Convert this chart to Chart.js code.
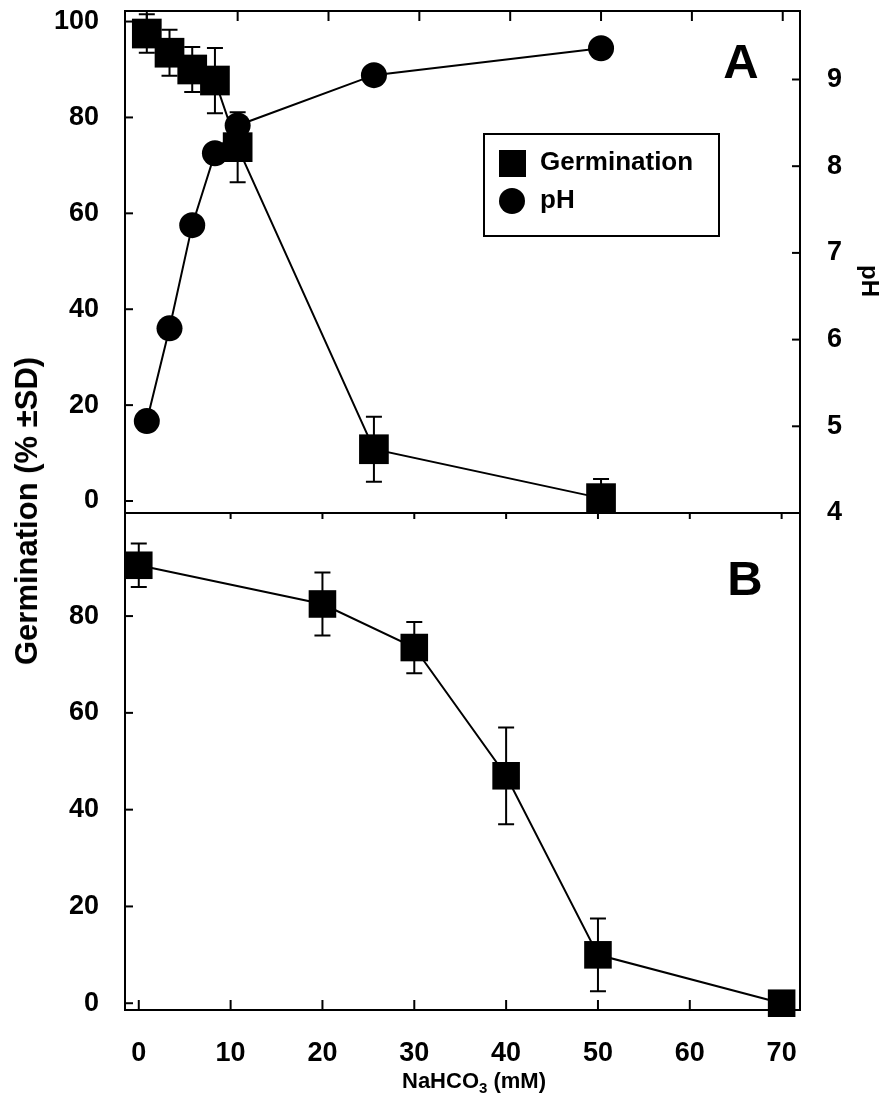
<!DOCTYPE html>
<html>
<head>
<meta charset="utf-8">
<script src="https://cdn.jsdelivr.net/npm/chart.js@4.4.1/dist/chart.umd.min.js"></script>
<style>
  html, body { margin: 0; padding: 0; background: #fff; }
  #wrap { position: relative; width: 891px; height: 1095px; overflow: hidden;
          font-family: 'Liberation Sans', Arial, sans-serif; font-weight: bold; color: #000; }
  canvas { position: absolute; left: 0; }
  #cA { top: 0; }
  #cB { top: 513px; }
  .lbl { position: absolute; white-space: nowrap; }
  #ytitle { left: 27px; top: 511px; font-size: 31px; transform: translate(-50%, -50%) rotate(-90deg); }
  #phtitle { left: 870px; top: 281px; font-size: 24px; transform: translate(-50%, -50%) rotate(90deg); }
  #xtitle { left: 474px; top: 1082px; font-size: 22px; transform: translate(-50%, -50%); }
  #xtitle sub { font-size: 15px; vertical-align: -5px; }
  .panel { font-size: 49px; transform: translate(-50%, -50%); }
  #legend { position: absolute; left: 483px; top: 133px; width: 233px; height: 100px;
            border: 2px solid #000; font-size: 26px; }
  #legend .row { position: absolute; left: 14px; height: 28px; line-height: 28px; }
  #legend .sq { display: inline-block; width: 27px; height: 27px; background: #000; vertical-align: middle; margin-right: 14px; }
  #legend .ci { display: inline-block; width: 26px; height: 26px; border-radius: 50%; background: #000; vertical-align: middle; margin-right: 15px; }
</style>
</head>
<body>
<div id="wrap">
  <canvas id="cA" width="891" height="540"></canvas>
  <canvas id="cB" width="891" height="582"></canvas>
  <div class="lbl" id="ytitle">Germination (% ±SD)</div>
  <div class="lbl" id="phtitle">pH</div>
  <div class="lbl" id="xtitle">NaHCO<sub>3</sub> (mM)</div>
  <div class="lbl panel" style="left:741px; top:61px;">A</div>
  <div class="lbl panel" style="left:745px; top:578px;">B</div>
  <div id="legend">
    <div class="row" style="top:12px;"><span class="sq"></span>Germination</div>
    <div class="row" style="top:50px;"><span class="ci"></span>pH</div>
  </div>
</div>
<script>
// ---- data ----
// panel A
var concA = [0, 2.5, 5, 7.5, 10, 25, 50];
var germA = [97.5, 93.5, 90, 87.7, 73.8, 10.8, 0.6];
var germSdA = [4, 4.8, 4.7, 6.8, 7.3, 6.8, 4];
var phA = [5.06, 6.13, 7.32, 8.15, 8.47, 9.05, 9.36];
// panel B
var concB = [0, 20, 30, 40, 50, 70];
var germB = [90.5, 82.5, 73.5, 47, 10, 0];
var germSdB = [4.5, 6.5, 5.3, 10, 7.5, 0];
// ticks
var concTicks = [0, 10, 20, 30, 40, 50, 60, 70];
var germTicksA = [0, 20, 40, 60, 80, 100];
var germTicksB = [0, 20, 40, 60, 80];
var phTicks = [4, 5, 6, 7, 8, 9];

var tickFont = { family: "'Liberation Sans', Arial, sans-serif", size: 27, weight: 'bold' };
Chart.defaults.color = '#000';

function fixTicks(list) {
  return function (scale) { scale.ticks = list.map(function (v) { return { value: v }; }); };
}
// fixed axis size, no extra room for overhanging labels
function fixSize(w, h) {
  return function (s) {
    if (w != null) s.width = w;
    if (h != null) s.height = h;
    s.paddingTop = 0; s.paddingBottom = 0; s.paddingLeft = 0; s.paddingRight = 0;
  };
}

// error bars, drawn under the markers
var errorBars = {
  id: 'errorBars',
  beforeDatasetsDraw: function (chart, args, opts) {
    var ctx = chart.ctx, a = chart.chartArea;
    var xs = chart.scales.x, ys = chart.scales.y;
    ctx.save();
    if (opts.clip) { ctx.beginPath(); ctx.rect(a.left, a.top, a.right - a.left, a.bottom - a.top); ctx.clip(); }
    ctx.strokeStyle = '#000';
    ctx.lineWidth = 2;
    opts.x.forEach(function (xv, i) {
      var sd = opts.sd[i];
      if (!sd) return;
      var px = xs.getPixelForValue(xv);
      var top = ys.getPixelForValue(opts.y[i] + sd);
      var bot = ys.getPixelForValue(opts.y[i] - sd);
      ctx.beginPath();
      ctx.moveTo(px, top); ctx.lineTo(px, bot);
      ctx.moveTo(px - 8, top); ctx.lineTo(px + 8, top);
      ctx.moveTo(px - 8, bot); ctx.lineTo(px + 8, bot);
      ctx.stroke();
    });
    ctx.restore();
  }
};

// box round the plot + inward tick marks
var frame = {
  id: 'frame',
  afterDraw: function (chart, args, opts) {
    var ctx = chart.ctx, a = chart.chartArea;
    ctx.save();
    ctx.strokeStyle = '#000';
    ctx.lineWidth = 2;
    ctx.strokeRect(a.left, a.top, a.right - a.left, a.bottom - a.top);
    (opts.marks || []).forEach(function (m) {
      var s = chart.scales[m.scale];
      var out = m.out || 0;
      m.values.forEach(function (v) {
        var p = s.getPixelForValue(v);
        ctx.beginPath();
        if (m.side === 'left') { ctx.moveTo(a.left - out, p); ctx.lineTo(a.left + m.len, p); }
        if (m.side === 'right') { ctx.moveTo(a.right + out, p); ctx.lineTo(a.right - m.len, p); }
        if (m.side === 'top') { ctx.moveTo(p, a.top - out); ctx.lineTo(p, a.top + m.len); }
        if (m.side === 'bottom') { ctx.moveTo(p, a.bottom + out); ctx.lineTo(p, a.bottom - m.len); }
        ctx.stroke();
      });
    });
    ctx.restore();
  }
};

// ==== panel A ====
new Chart(document.getElementById('cA'), {
  type: 'line',
  data: {
    datasets: [{
      label: 'Germination',
      data: concA.map(function (c, i) { return { x: c, y: germA[i] }; }),
      yAxisID: 'y',
      borderColor: '#000', backgroundColor: '#000', borderWidth: 2,
      pointStyle: 'rect', pointRadius: 21, pointBorderWidth: 0, tension: 0
    }, {
      label: 'pH',
      data: concA.map(function (c, i) { return { x: c, y: phA[i] }; }),
      yAxisID: 'yR',
      borderColor: '#000', backgroundColor: '#000', borderWidth: 2,
      pointStyle: 'circle', pointRadius: 13, pointBorderWidth: 0, tension: 0
    }]
  },
  options: {
    responsive: false,
    animation: false,
    layout: { autoPadding: false, padding: { top: 11, bottom: 27, left: 0, right: 0 } },
    plugins: {
      legend: { display: false },
      tooltip: { enabled: false },
      errorBars: { x: concA, y: germA, sd: germSdA, clip: true },
      frame: {
        marks: [
          { scale: 'y', side: 'left', values: germTicksA, len: 8 },
          { scale: 'yR', side: 'right', values: phTicks, len: 8 },
          { scale: 'x', side: 'top', values: concTicks, len: 10 }
        ]
      }
    },
    scales: {
      x: { type: 'linear', display: false, min: -2.4, max: 71.9 },
      y: {
        position: 'left', min: -2.5, max: 102.2,
        afterBuildTicks: fixTicks(germTicksA),
        afterFit: fixSize(125, null),
        grid: { display: false }, border: { display: false },
        ticks: { font: tickFont, padding: 18 }
      },
      yR: {
        position: 'right', min: 4, max: 9.79,
        afterBuildTicks: fixTicks(phTicks),
        afterFit: fixSize(91, null),
        grid: { display: false }, border: { display: false },
        ticks: { font: tickFont, padding: 19 }
      }
    }
  },
  plugins: [errorBars, frame]
});

// ==== panel B ====
new Chart(document.getElementById('cB'), {
  type: 'line',
  data: {
    datasets: [{
      label: 'Germination',
      data: concB.map(function (c, i) { return { x: c, y: germB[i] }; }),
      borderColor: '#000', backgroundColor: '#000', borderWidth: 2,
      pointStyle: 'rect', pointRadius: 19.5, pointBorderWidth: 0, tension: 0,
      clip: false
    }]
  },
  options: {
    responsive: false,
    animation: false,
    layout: { autoPadding: false, padding: { top: 0, bottom: 0, left: 0, right: 91 } },
    plugins: {
      legend: { display: false },
      tooltip: { enabled: false },
      errorBars: { x: concB, y: germB, sd: germSdB, clip: false },
      frame: {
        marks: [
          { scale: 'y', side: 'left', values: germTicksB, len: 8 },
          { scale: 'x', side: 'bottom', values: concTicks, len: 10 },
          { scale: 'x', side: 'top', values: concTicks.slice(1), len: 6, out: 6 }
        ]
      }
    },
    scales: {
      x: {
        type: 'linear', min: -1.5, max: 72,
        afterBuildTicks: fixTicks(concTicks),
        afterFit: fixSize(null, 85),
        grid: { display: false }, border: { display: false },
        ticks: { font: tickFont, padding: 19, maxRotation: 0 }
      },
      y: {
        position: 'left', min: -1.4, max: 101.3,
        afterBuildTicks: fixTicks(germTicksB),
        afterFit: fixSize(125, null),
        grid: { display: false }, border: { display: false },
        ticks: { font: tickFont, padding: 18 }
      }
    }
  },
  plugins: [errorBars, frame]
});
</script>
</body>
</html>
